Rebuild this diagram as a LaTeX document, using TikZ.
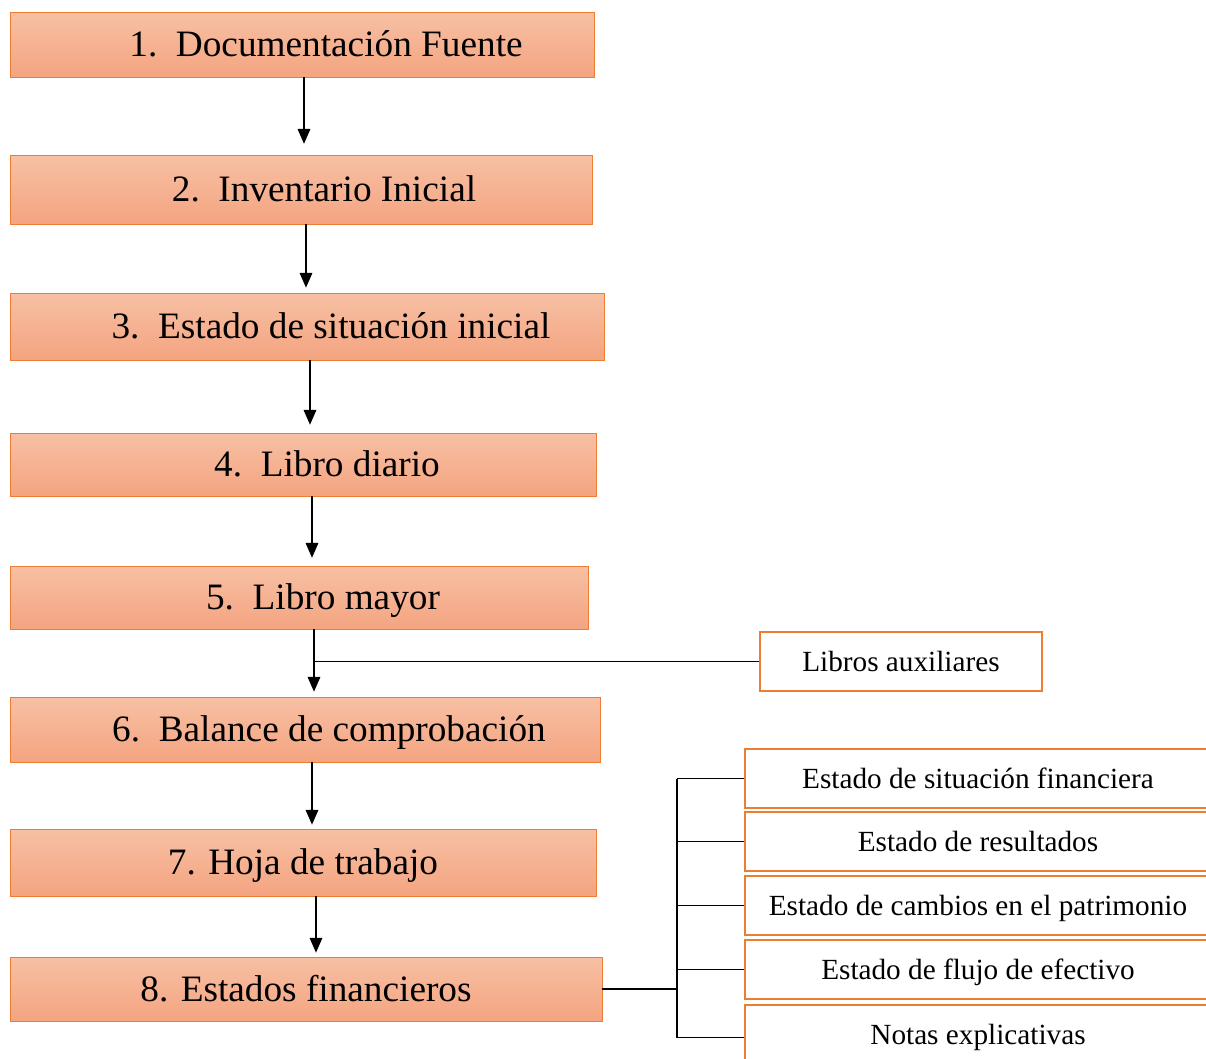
\documentclass[tikz,border=0pt]{standalone}
\usepackage{fontspec}
\setmainfont{Liberation Serif}
\usetikzlibrary{arrows.meta,positioning,fit}
\definecolor{boxtop}{RGB}{247,192,164}
\definecolor{boxbot}{RGB}{244,164,128}
\definecolor{boxline}{RGB}{237,125,49}

\begin{document}
\begin{tikzpicture}[x=0.025cm,y=-0.025cm]
		\tikzstyle{stepbox}=[rectangle, draw=boxline, line width=0.6pt, top color=boxtop, bottom color=boxbot, inner sep=0pt]
		\tikzstyle{steptext}=[font=\fontsize{26.5}{30}\selectfont, inner sep=0pt, anchor=base]
		\tikzstyle{sidebox}=[rectangle, draw=boxline, line width=1.5pt, fill=white, inner sep=0pt]
		\tikzstyle{sidetext}=[font=\fontsize{20.8}{24}\selectfont, inner sep=0pt, anchor=base]
		\tikzstyle{arr}=[-{Triangle[length=10.5pt,width=9pt]}, line width=0.8pt]
		
		\useasboundingbox (0,0) rectangle (1206,1059);
		
		% Steps
		\foreach \n/\l/\t/\r/\b/\tx/\txt in {
			1/10/12/594/77/326/{1.\ \ Documentación Fuente},
			2/10/155/592/224/324/{2.\ \ Inventario Inicial},
			3/10/293/604/360/331/{3.\ \ Estado de situación inicial},
			4/10/433/596/496/327/{4.\ \ Libro diario},
			5/10/566/588/629/323/{5.\ \ Libro mayor},
			6/10/697/600/762/329/{6.\ \ Balance de comprobación},
			7/10/829/596/896/303/{7. Hoja de trabajo},
			8/10/957/602/1021/306/{8. Estados financieros}}
		{
		\node[stepbox, fit={(\l,\t) (\r,\b)}] (s\n) {};
		\node[steptext] at (\tx,{(\t+\b)/2+12}) (t\n) {\txt};
		}
		
		% Arrows
		\foreach \i/\j/\ax/\g in {1/2/304/11, 2/3/306/5, 3/4/310/8, 4/5/312/8, 5/6/314/5, 6/7/312/4, 7/8/316/4}
		{
		\coordinate (ax\i) at (\ax,0);
		\draw[arr, shorten >={\g*0.7pt}] (s\i.south -| ax\i) -- (s\j.north -| ax\i);
		}
		
		% Libros auxiliares
		\node[sidebox, fit={(760,632) (1042,691)}] (aux) {};
		\node[sidetext] at (901,671) (auxt) {Libros auxiliares};
		\draw[line width=0.8pt] (ax5 |- aux.west) -- (aux.west);
		
		% Estados financieros
		\foreach \k/\t/\b/\txt in {
			1/749/808/{Estado de situación financiera},
			2/812/871/{Estado de resultados},
			3/876/935/{Estado de cambios en el patrimonio},
			4/940/999/{Estado de flujo de efectivo},
			5/1005/1070/{Notas explicativas}}
		{
		\node[sidebox, fit={(745,\t) (1216,\b)}] (f\k) {};
		\node[sidetext] at (978,{\t+39}) (ft\k) {\txt};
		}
		
		% Bracket
		\coordinate (br) at (677,0);
		\draw[line width=0.8pt] (s8.east) -- (s8.east -| br);
		\draw[line width=0.8pt] (br |- f1.west) -- (br |- f5.west);
		\foreach \k in {1,...,5}
		\draw[line width=0.8pt] (br |- f\k.west) -- (f\k.west);
		
\end{tikzpicture}
\end{document}
